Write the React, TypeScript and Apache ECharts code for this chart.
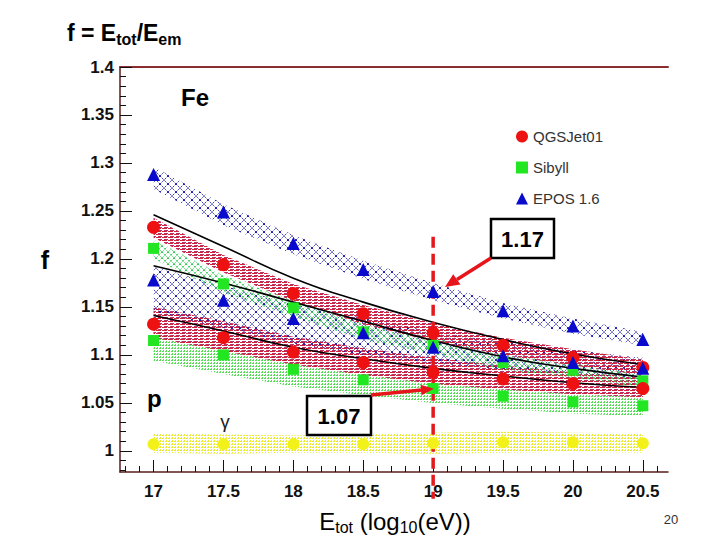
import React, { useEffect, useRef } from "react";
import * as echarts from "echarts";

// ---------- data ----------
const X = [17, 17.5, 18, 18.5, 19, 19.5, 20, 20.5];

const feQgs = [1.233, 1.194, 1.164, 1.143, 1.123, 1.110, 1.097, 1.087];
const feSib = [1.211, 1.174, 1.149, 1.124, 1.110, 1.092, 1.084, 1.073];
const feEpos = [1.288, 1.249, 1.216, 1.189, 1.166, 1.146, 1.130, 1.116];
const pQgs = [1.132, 1.118, 1.103, 1.092, 1.082, 1.075, 1.070, 1.065];
const pSib = [1.115, 1.100, 1.085, 1.074, 1.065, 1.057, 1.051, 1.047];
const pEpos = [1.178, 1.157, 1.138, 1.123, 1.108, 1.099, 1.092, 1.086];
const gamma = [1.007, 1.007, 1.007, 1.007, 1.008, 1.009, 1.009, 1.008];

const feEposHi = [1.296, 1.257, 1.225, 1.198, 1.175, 1.154, 1.138, 1.124];
const feEposLo = [1.273, 1.235, 1.205, 1.179, 1.157, 1.138, 1.122, 1.110];
const feQgsHi = [1.243, 1.204, 1.174, 1.152, 1.133, 1.118, 1.106, 1.095];
const feQgsLo = [1.222, 1.186, 1.156, 1.132, 1.114, 1.100, 1.089, 1.079];
const feSibHi = [1.220, 1.183, 1.157, 1.133, 1.118, 1.100, 1.091, 1.080];
const feSibLo = [1.200, 1.165, 1.140, 1.116, 1.101, 1.084, 1.076, 1.066];
const pEposHi = [1.192, 1.172, 1.153, 1.139, 1.124, 1.114, 1.105, 1.097];
const pEposLo = [1.145, 1.128, 1.112, 1.100, 1.091, 1.085, 1.080, 1.076];
const pQgsHi = [1.150, 1.135, 1.119, 1.107, 1.097, 1.089, 1.082, 1.077];
const pQgsLo = [1.118, 1.104, 1.090, 1.079, 1.070, 1.064, 1.059, 1.056];
const pSibHi = [1.125, 1.110, 1.096, 1.085, 1.076, 1.068, 1.062, 1.058];
const pSibLo = [1.094, 1.080, 1.067, 1.058, 1.050, 1.044, 1.039, 1.036];
const gammaHi = [1.018, 1.017, 1.016, 1.017, 1.019, 1.020, 1.019, 1.018];
const gammaLo = [0.998, 0.997, 0.998, 0.998, 0.997, 0.998, 0.999, 0.998];

const fitUpper = [1.246, 1.213, 1.180, 1.155, 1.134, 1.116, 1.101, 1.090];
const fitMiddle = [1.193, 1.175, 1.155, 1.135, 1.115, 1.098, 1.086, 1.077];
const fitLower = [1.141, 1.125, 1.108, 1.096, 1.086, 1.078, 1.071, 1.066];

const xMajorTicks = [17, 17.5, 18, 18.5, 19, 19.5, 20, 20.5];
const xMinorTicks = [16.8, 16.9, 17.1, 17.2, 17.3, 17.4, 17.6, 17.7, 17.8, 17.9, 18.1, 18.2, 18.3, 18.4, 18.6, 18.7, 18.8, 18.9, 19.1, 19.2, 19.3, 19.4, 19.6, 19.7, 19.8, 19.9, 20.1, 20.2, 20.3, 20.4, 20.6];
const yMajorTicks = [1, 1.05, 1.1, 1.15, 1.2, 1.25, 1.3, 1.35, 1.4];
const yMinorTicks = [0.98, 0.99, 1.01, 1.02, 1.03, 1.04, 1.06, 1.07, 1.08, 1.09, 1.11, 1.12, 1.13, 1.14, 1.16, 1.17, 1.18, 1.19, 1.21, 1.22, 1.23, 1.24, 1.26, 1.27, 1.28, 1.29, 1.31, 1.32, 1.33, 1.34, 1.36, 1.37, 1.38, 1.39];

const markerX = 19;
const markerTop = 1.223;
const markerBottom = 0.95;

const FONT = "'Liberation Sans', Arial, Helvetica, sans-serif";

function makePattern(w: number, h: number, draw: (ctx: CanvasRenderingContext2D) => void) {
  const c = document.createElement("canvas");
  c.width = w;
  c.height = h;
  const ctx = c.getContext("2d") as CanvasRenderingContext2D;
  draw(ctx);
  return { image: c, repeat: "repeat" } as any;
}

function crossHatch(color: string, size: number, width: number) {
  return makePattern(size, size, (ctx) => {
    ctx.strokeStyle = color;
    ctx.lineWidth = width;
    ctx.setLineDash([1.5, 1]);
    ctx.beginPath();
    ctx.moveTo(0, 0);
    ctx.lineTo(size, size);
    ctx.moveTo(size, 0);
    ctx.lineTo(0, size);
    ctx.stroke();
  });
}

function stripes(color: string, color2: string) {
  return makePattern(6, 3, (ctx) => {
    ctx.fillStyle = color;
    ctx.fillRect(0, 0, 5, 1);
    ctx.fillStyle = color2;
    ctx.fillRect(2, 2, 4, 1);
  });
}

function dots(color: string, w: number, h: number) {
  return makePattern(w, h, (ctx) => {
    ctx.fillStyle = color;
    ctx.fillRect(0, 0, 2, 1);
    ctx.fillRect(1, 2, 1, 1);
  });
}

function bandSeries(name: string, hi: number[], lo: number[], fill: any, z: number) {
  return {
    type: "custom",
    name,
    silent: true,
    z,
    data: X.map((x, i) => [x, lo[i], hi[i]]),
    encode: { x: 0, y: [1, 2] },
    renderItem: (params: any, api: any) => {
      if (params.dataIndex !== 0) return null;
      const pts: number[][] = [];
      for (let i = 0; i < X.length; i++) pts.push(api.coord([X[i], hi[i]]));
      for (let i = X.length - 1; i >= 0; i--) pts.push(api.coord([X[i], lo[i]]));
      return {
        type: "polygon",
        shape: { points: pts },
        style: { fill, stroke: null },
      };
    },
  };
}

function fitSeries(vals: number[]) {
  return {
    type: "line",
    silent: true,
    z: 3,
    smooth: 0.5,
    showSymbol: false,
    symbol: "none",
    lineStyle: { color: "#000", width: 1.6 },
    data: X.map((x, i) => [x, vals[i]]),
  };
}

function scatter(name: string, vals: number[], symbol: string, size: number, color: string) {
  return {
    type: "scatter",
    name,
    z: 6,
    symbol,
    symbolSize: size,
    itemStyle: { color, opacity: 1 },
    data: X.map((x, i) => [x, vals[i]]),
  };
}

function fmt(v: number) {
  return String(+Number(v).toFixed(2));
}

export default function App() {
  const ref = useRef<HTMLDivElement>(null);
  useEffect(() => {
    if (!ref.current) return;
    const chart = echarts.init(ref.current, null, { renderer: "svg" });

    const blueHatch = crossHatch("#2020b0", 8, 1);
    const greenHatch = crossHatch("#35c855", 6, 1);
    const redStripe = stripes("#d0223a", "#b8306a");
    const greenDots = dots("#55dd55", 3, 3);
    const yellowDots = dots("#eaea30", 3, 3);

    const option: any = {
      animation: false,
      backgroundColor: "#ffffff",
      grid: { left: 120, right: 52, top: 67, bottom: 68, outerBoundsMode: "none" },
      xAxis: [
        {
          type: "value",
          min: 16.76,
          max: 20.68,
          position: "bottom",
          axisLine: { show: true, lineStyle: { color: "#5a1e1e", width: 1.5 } },
          axisTick: { show: true, inside: true, length: 12, customValues: xMajorTicks, lineStyle: { color: "#111", width: 1 } },
          axisLabel: {
            customValues: xMajorTicks,
            formatter: fmt,
            fontSize: 17,
            fontWeight: "bold",
            fontFamily: FONT,
            color: "#111",
            margin: 11,
          },
          splitLine: { show: false },
        },
        {
          type: "value",
          min: 16.76,
          max: 20.68,
          position: "bottom",
          axisLine: { show: false },
          axisTick: { show: true, inside: true, length: 6, customValues: xMinorTicks, lineStyle: { color: "#111", width: 1 } },
          axisLabel: { show: false },
          splitLine: { show: false },
        },
        {
          type: "value",
          min: 16.76,
          max: 20.68,
          position: "top",
          axisLine: { show: true, lineStyle: { color: "#8a2e2e", width: 2 } },
          axisTick: { show: false },
          axisLabel: { show: false },
          splitLine: { show: false },
        },
      ],
      yAxis: [
        {
          type: "value",
          min: 0.978,
          max: 1.4,
          position: "left",
          axisLine: { show: true, lineStyle: { color: "#5a1e1e", width: 1.5 } },
          axisTick: { show: true, inside: true, length: 12, customValues: yMajorTicks, lineStyle: { color: "#111", width: 1 } },
          axisLabel: {
            customValues: yMajorTicks,
            formatter: fmt,
            fontSize: 17,
            fontWeight: "bold",
            fontFamily: FONT,
            color: "#111",
            margin: 6,
          },
          splitLine: { show: false },
        },
        {
          type: "value",
          min: 0.978,
          max: 1.4,
          position: "left",
          axisLine: { show: false },
          axisTick: { show: true, inside: true, length: 6, customValues: yMinorTicks, lineStyle: { color: "#111", width: 1 } },
          axisLabel: { show: false },
          splitLine: { show: false },
        },
      ],
      legend: {
        orient: "vertical",
        left: 511,
        top: 124,
        itemWidth: 12,
        itemHeight: 12,
        itemGap: 16,
        textStyle: { fontFamily: FONT, fontSize: 15, color: "#333" },
        data: [
          { name: "QGSJet01", icon: "circle" },
          { name: "Sibyll", icon: "rect" },
          { name: "EPOS 1.6", icon: "triangle" },
        ],
      },
      series: [
        bandSeries("gammaBand", gammaHi, gammaLo, yellowDots, 1),
        bandSeries("pSibBand", pSibHi, pSibLo, greenDots, 1),
        bandSeries("pQgsBand", pQgsHi, pQgsLo, redStripe, 1),
        bandSeries("pEposBand", pEposHi, pEposLo, blueHatch, 1),
        bandSeries("feSibBand", feSibHi, feSibLo, greenHatch, 1),
        bandSeries("feQgsBand", feQgsHi, feQgsLo, redStripe, 1),
        bandSeries("feEposBand", feEposHi, feEposLo, blueHatch, 1),
        fitSeries(fitUpper),
        fitSeries(fitMiddle),
        fitSeries(fitLower),
        {
          type: "custom",
          silent: true,
          z: 4,
          data: [[markerX, markerTop, markerBottom]],
          encode: { x: 0, y: [1, 2] },
          renderItem: (params: any, api: any) => {
            const a = api.coord([markerX, markerTop]);
            const b = api.coord([markerX, markerBottom]);
            return {
              type: "line",
              shape: { x1: a[0], y1: a[1], x2: b[0], y2: b[1] },
              style: { stroke: "#e3191c", lineWidth: 3.5, lineDash: [11, 6] },
            };
          },
        },
        scatter("gamma", gamma, "circle", 12, "#f2f21a"),
        scatter("Sibyll", pSib, "rect", 11, "#22e622"),
        scatter("Sibyll", feSib, "rect", 11, "#22e622"),
        scatter("QGSJet01", pQgs, "circle", 13, "#ee1111"),
        scatter("QGSJet01", feQgs, "circle", 13, "#ee1111"),
        scatter("EPOS 1.6", pEpos, "triangle", 13, "#0a0acc"),
        scatter("EPOS 1.6", feEpos, "triangle", 13, "#0a0acc"),
      ],
      graphic: [
        {
          type: "text",
          z: 100,
          style: {
            x: 67,
            y: 33,
            verticalAlign: "middle",
            text: "{a|f = E}{s|tot}{a|/E}{s|em}",
            rich: {
              a: { fontFamily: FONT, fontSize: 23, fontWeight: "bold", fill: "#000" },
              s: { fontFamily: FONT, fontSize: 16, fontWeight: "bold", fill: "#000", padding: [12, 0, 0, 0] },
            },
          },
        },
        {
          type: "text",
          z: 100,
          style: { x: 45, y: 260, text: "f", fontFamily: FONT, fontSize: 25, fontWeight: "bold", fill: "#000", align: "center", verticalAlign: "middle" },
        },
        {
          type: "text",
          z: 100,
          style: { x: 181, y: 97, text: "Fe", fontFamily: FONT, fontSize: 24, fontWeight: "bold", fill: "#000", verticalAlign: "middle" },
        },
        {
          type: "text",
          z: 100,
          style: { x: 147, y: 398, text: "p", fontFamily: FONT, fontSize: 24, fontWeight: "bold", fill: "#000", verticalAlign: "middle" },
        },
        {
          type: "text",
          z: 100,
          style: { x: 225, y: 421, text: "γ", fontFamily: FONT, fontSize: 19, fill: "#222", align: "center", verticalAlign: "middle" },
        },
        {
          type: "text",
          z: 100,
          style: {
            x: 395,
            y: 521,
            align: "center",
            verticalAlign: "middle",
            text: "{a|E}{s|tot}{a| (log}{s|10}{a|(eV))}",
            rich: {
              a: { fontFamily: FONT, fontSize: 24, fill: "#000" },
              s: { fontFamily: FONT, fontSize: 16, fill: "#000", padding: [13, 0, 0, 0] },
            },
          },
        },
        {
          type: "text",
          z: 100,
          style: { x: 671, y: 519, text: "20", fontFamily: FONT, fontSize: 13, fill: "#333", align: "center", verticalAlign: "middle" },
        },
        // 1.17 annotation
        {
          type: "rect",
          z: 100,
          shape: { x: 491, y: 219, width: 63, height: 39 },
          style: { fill: "#fff", stroke: "#000", lineWidth: 2.5 },
        },
        {
          type: "text",
          z: 101,
          style: { x: 522.5, y: 239, text: "1.17", fontFamily: FONT, fontSize: 22, fontWeight: "bold", fill: "#000", align: "center", verticalAlign: "middle" },
        },
        {
          type: "line",
          z: 100,
          shape: { x1: 491, y1: 258, x2: 457, y2: 279.5 },
          style: { stroke: "#e8141c", lineWidth: 3.5 },
        },
        {
          type: "polygon",
          z: 100,
          shape: { points: [[445, 287], [460.5, 284.6], [453.2, 274.2]] },
          style: { fill: "#e8141c" },
        },
        // 1.07 annotation
        {
          type: "rect",
          z: 100,
          shape: { x: 307, y: 396, width: 64, height: 39 },
          style: { fill: "#fff", stroke: "#000", lineWidth: 2.5 },
        },
        {
          type: "text",
          z: 101,
          style: { x: 339, y: 416, text: "1.07", fontFamily: FONT, fontSize: 22, fontWeight: "bold", fill: "#000", align: "center", verticalAlign: "middle" },
        },
        {
          type: "line",
          z: 100,
          shape: { x1: 371, y1: 395, x2: 422, y2: 390 },
          style: { stroke: "#e8141c", lineWidth: 3.5 },
        },
        {
          type: "polygon",
          z: 100,
          shape: { points: [[434, 388.8], [421.6, 395.2], [420.6, 384.8]] },
          style: { fill: "#e8141c" },
        },
      ],
    };

    chart.setOption(option);
    return () => chart.dispose();
  }, []);

  return (
    <div
      ref={ref}
      style={{ position: "fixed", left: 0, top: 0, width: 720, height: 540, background: "#fff" }}
    />
  );
}
